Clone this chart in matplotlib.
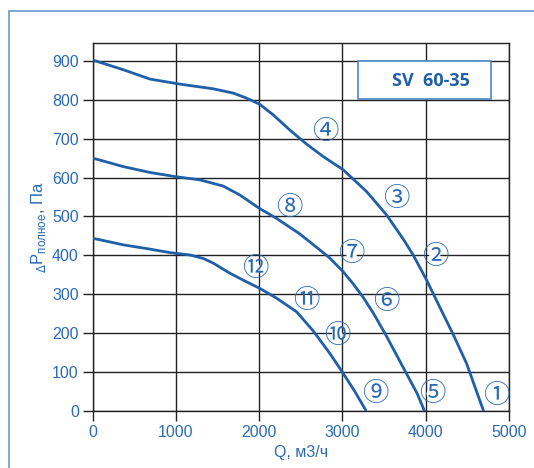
import matplotlib
matplotlib.use("Agg")
import matplotlib.pyplot as plt
from matplotlib.patches import Rectangle

plt.rcParams['font.family'] = ['Liberation Sans', 'DejaVu Sans']

# Curve data (Q in m3/h, P in Pa)
q_a = [0, 368, 688, 1048, 1448, 1688, 1848, 2008, 2168, 2368, 2568, 2768, 3008, 3289,
       3529, 3729, 3849, 4009, 4189, 4329, 4489, 4589, 4695]
p_a = [902, 877, 853, 840, 828, 817, 804, 788, 761, 722, 686, 654, 620, 564,
       504, 442, 401, 337, 258, 197, 123, 63, 0]

q_b = [0, 368, 688, 1000, 1288, 1568, 1768, 2000, 2208, 2488, 2728, 2848, 3008, 3128,
       3249, 3369, 3509, 3649, 3789, 3897, 3985]
p_b = [650, 628, 613, 602, 594, 578, 555, 521, 495, 455, 414, 393, 358, 327,
       292, 252, 200, 144, 88, 45, 0]

q_c = [0, 368, 688, 928, 1168, 1328, 1448, 1648, 1848, 2008, 2208, 2449, 2648, 2848,
       3008, 3149, 3285]
p_c = [444, 427, 416, 407, 401, 392, 380, 354, 332, 315, 290, 255, 206, 148,
       97, 50, 0]

labels = ['①', '②', '③', '④', '⑤', '⑥', '⑦', '⑧', '⑨', '⑩', '⑪', '⑫']
label_q = [4845, 4109, 3641, 2789, 4077, 3529, 3109, 2360, 3397, 2937, 2561, 1948]
label_p = [39, 398, 547, 718, 44, 281, 405, 524, 44, 194, 284, 367]

x_ticks = [0, 1000, 2000, 3000, 4000, 5000]
y_ticks = [0, 100, 200, 300, 400, 500, 600, 700, 800, 900]

title = 'SV  60-35'

blue = '#1f5fa8'
tblue = '#2a6ab5'

W, H = 534, 468
fig = plt.figure(figsize=(W/100, H/100), dpi=100)
ax = fig.add_axes([92.7/W, 1-411/H, (509-92.7)/W, (411-42.5)/H])

for q, p in [(q_a, p_a), (q_b, p_b), (q_c, p_c)]:
    ax.plot(q, p, color=blue, lw=2.0, solid_capstyle='butt', solid_joinstyle='round', zorder=3)

for lab, q, p in zip(labels, label_q, label_p):
    ax.text(q, p, lab, color=tblue, fontsize=19, ha='center', va='center',
            family=['Noto Sans CJK JP', 'DejaVu Sans'], zorder=4,
            bbox=dict(boxstyle='circle,pad=-0.3', fc='white', ec='none'))

ax.set_xlim(0, 5000)
ax.set_ylim(0, 947)
ax.set_xticks(x_ticks)
ax.set_yticks(y_ticks)
ax.grid(True, color='#222222', lw=1.0)
ax.set_axisbelow(True)
for s in ax.spines.values():
    s.set_color('#222222')
    s.set_linewidth(1.0)
ax.tick_params(direction='out', length=7, width=1, color='#222222',
               labelcolor=tblue, labelsize=11.5, pad=3)

ax.set_xlabel('Q, м3/ч', color=tblue, fontsize=11.5, labelpad=4)
ax.set_ylabel(r'$_{\Delta}\mathregular{P}_{\mathregular{полное}}$, Па', color=tblue,
              fontsize=12, labelpad=3)

ax.add_patch(Rectangle((0.637, 0.846), 0.320, 0.104, transform=ax.transAxes,
                       facecolor='white', edgecolor='#4a86c8', lw=1.2, zorder=5))
ax.text(0.812, 0.896, title, transform=ax.transAxes, color=blue, fontsize=13,
        fontweight='bold', ha='center', va='center', zorder=6,
        family=['Open Sans', 'DejaVu Sans'])

fig.add_artist(Rectangle((8.5/W, -0.1), 1.5, 0.1 + 1 - 11.2/H, transform=fig.transFigure,
                         facecolor='none', edgecolor='#6a9ad0', lw=1.2))

fig.savefig('out.png', dpi=100)
